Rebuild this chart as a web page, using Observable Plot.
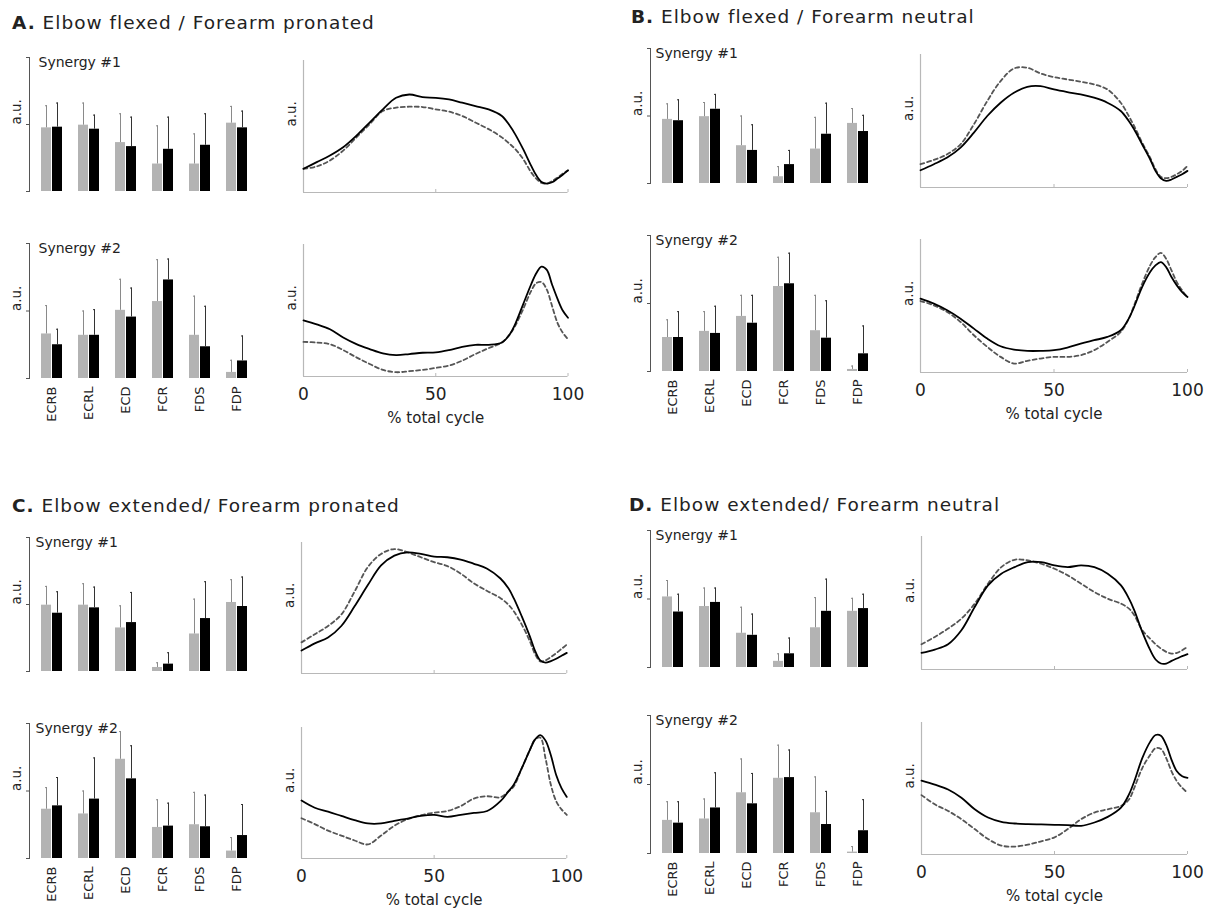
<!DOCTYPE html>
<html><head><meta charset="utf-8">
<script src="https://cdn.jsdelivr.net/npm/d3@7"></script>
<script src="https://cdn.jsdelivr.net/npm/@observablehq/plot@0.6"></script>
<style>
body{margin:0;background:#fff;}
#root{position:relative;width:1207px;height:909px;font-family:"DejaVu Sans",sans-serif;color:#222;overflow:hidden;}
.ttl{position:absolute;font-size:18.5px;letter-spacing:1px;line-height:18px;white-space:nowrap;color:#222;}
.ttl b{font-weight:bold;}
.pl{position:absolute;}
</style></head><body><div id="root"></div>
<script>
// ---------- data ----------
const muscles = ["ECRB","ECRL","ECD","FCR","FDS","FDP"];
const cycle = [0,5,10,15,20,25,30,35,40,45,50,55,60,65,70,75,78,80,83,86,88,90,92,94,96,98,100];
const xTicks = [0,50,100];

// bar means (gray / black) and SD, a.u.
const A1_grayMean = [0.95,0.99,0.73,0.41,0.41,1.02];
const A1_graySd   = [0.33,0.33,0.43,0.57,0.45,0.25];
const A1_blackMean= [0.96,0.93,0.67,0.63,0.69,0.95];
const A1_blackSd  = [0.36,0.21,0.44,0.48,0.47,0.25];
const A2_grayMean = [0.66,0.64,1.01,1.14,0.64,0.09];
const A2_graySd   = [0.42,0.36,0.46,0.62,0.58,0.18];
const A2_blackMean= [0.50,0.64,0.91,1.46,0.47,0.26];
const A2_blackSd  = [0.23,0.38,0.43,0.31,0.60,0.37];

const B1_grayMean = [0.95,0.99,0.56,0.10,0.51,0.89];
const B1_graySd   = [0.23,0.21,0.44,0.15,0.47,0.22];
const B1_blackMean= [0.93,1.10,0.49,0.28,0.73,0.77];
const B1_blackSd  = [0.31,0.22,0.38,0.21,0.46,0.24];
const B2_grayMean = [0.50,0.59,0.81,1.25,0.60,0.03];
const B2_graySd   = [0.26,0.29,0.31,0.43,0.52,0.05];
const B2_blackMean= [0.50,0.56,0.71,1.29,0.49,0.26];
const B2_blackSd  = [0.38,0.40,0.41,0.45,0.55,0.41];

const C1_grayMean = [0.99,0.99,0.65,0.06,0.56,1.03];
const C1_graySd   = [0.28,0.32,0.33,0.07,0.52,0.34];
const C1_blackMean= [0.87,0.95,0.73,0.11,0.79,0.97];
const C1_blackSd  = [0.32,0.31,0.45,0.17,0.55,0.44];
const C2_grayMean = [0.73,0.66,1.47,0.46,0.50,0.11];
const C2_graySd   = [0.32,0.34,0.41,0.41,0.48,0.20];
const C2_blackMean= [0.78,0.88,1.18,0.48,0.47,0.34];
const C2_blackSd  = [0.42,0.61,0.49,0.34,0.47,0.46];

const D1_grayMean = [1.03,0.89,0.50,0.09,0.58,0.82];
const D1_graySd   = [0.24,0.27,0.38,0.11,0.44,0.19];
const D1_blackMean= [0.81,0.95,0.47,0.20,0.82,0.86];
const D1_blackSd  = [0.26,0.21,0.31,0.23,0.47,0.21];
const D2_grayMean = [0.48,0.50,0.88,1.09,0.59,0.02];
const D2_graySd   = [0.27,0.29,0.49,0.48,0.52,0.08];
const D2_blackMean= [0.44,0.66,0.72,1.10,0.42,0.33];
const D2_blackSd  = [0.31,0.51,0.44,0.40,0.48,0.45];

// activation profiles (a.u.), solid and dashed
const A1_solid  = [72,92,112,137,172,212,252,287,297,289,287,282,272,262,252,232,202,177,132,82,52,32,27,31,42,54,67];
const A1_dashed = [72,79,97,127,167,207,247,257,260,259,252,245,232,212,192,167,147,132,102,62,42,29,27,35,45,57,67];
const A2_solid  = [170,158,143,118,98,83,70,65,68,72,73,80,90,96,96,103,128,158,218,278,313,333,323,278,236,200,178];
const A2_dashed = [105,103,98,80,58,38,20,13,16,20,26,33,48,68,86,103,128,153,203,258,283,286,263,213,163,133,113];
const B1_solid  = [52,70,90,120,165,215,255,285,303,305,295,287,280,270,255,230,200,175,130,85,50,28,20,24,32,40,50];
const B1_dashed = [70,83,100,130,190,260,320,358,360,343,332,325,318,310,295,255,215,185,135,90,55,32,28,32,40,50,65];
const B2_solid  = [222,207,187,162,132,102,79,69,65,65,67,75,87,97,107,127,162,197,257,302,322,332,317,287,262,242,227];
const B2_dashed = [215,202,182,152,112,77,47,27,35,42,47,47,52,67,92,122,162,202,267,322,347,360,342,307,272,247,225];
const C1_solid  = [70,92,110,145,205,270,330,360,370,365,357,355,348,335,320,290,260,230,175,115,70,40,33,38,45,54,63];
const C1_dashed = [95,120,145,180,250,325,365,380,370,355,340,328,305,275,252,230,210,190,150,100,60,37,40,50,62,75,88];
const C2_solid  = [177,155,143,130,117,107,107,115,122,130,133,127,133,139,145,175,205,225,275,330,363,377,360,315,255,215,188];
const C2_dashed = [123,105,85,70,55,43,70,100,120,132,140,145,160,183,190,187,205,220,275,330,363,369,305,225,175,150,133];
const D1_solid  = [50,60,76,118,188,253,288,308,323,323,313,308,313,308,288,253,213,178,113,58,30,18,18,26,33,40,46];
const D1_dashed = [76,98,123,153,198,258,308,330,328,318,303,283,258,233,213,198,183,163,118,92,76,63,53,48,50,58,68];
const D2_solid  = [224,212,197,172,137,112,99,94,92,91,90,89,87,97,114,142,182,222,292,342,362,360,332,287,252,237,232];
const D2_dashed = [180,152,132,107,77,47,27,24,30,40,52,77,107,127,137,147,167,202,262,302,322,320,292,252,222,202,187];

const panelLetters = ["A.","B.","C.","D."];
const panelTitles = ["Elbow flexed / Forearm pronated","Elbow flexed / Forearm neutral","Elbow extended/ Forearm pronated","Elbow extended/ Forearm neutral"];
const synergyLabels = ["Synergy #1","Synergy #2"];
const yLabel = "a.u.";
const xLabel = "% total cycle";

// ---------- layout ----------
const layout = [
  {tx:12, ty:14, bx:29, sdx:9, bars:[[57,191],[243,378]], lx:302.5, lw:264.5, lines:[[60,192],[244,376]]},
  {tx:631, ty:8, bx:650, sdx:5, bars:[[48,183],[235,371]], lx:920, lw:267, lines:[[54,187],[239,372]]},
  {tx:12, ty:497, bx:29, sdx:6, bars:[[537,671],[723,858]], lx:300.7, lw:265.3, lines:[[542,673],[727,858]]},
  {tx:629, ty:496, bx:650, sdx:5, bars:[[530,667],[715,853]], lx:921, lw:266, lines:[[536,669],[722,854]]}
];
const barsData = [
  [[A1_grayMean,A1_graySd,A1_blackMean,A1_blackSd],[A2_grayMean,A2_graySd,A2_blackMean,A2_blackSd]],
  [[B1_grayMean,B1_graySd,B1_blackMean,B1_blackSd],[B2_grayMean,B2_graySd,B2_blackMean,B2_blackSd]],
  [[C1_grayMean,C1_graySd,C1_blackMean,C1_blackSd],[C2_grayMean,C2_graySd,C2_blackMean,C2_blackSd]],
  [[D1_grayMean,D1_graySd,D1_blackMean,D1_blackSd],[D2_grayMean,D2_graySd,D2_blackMean,D2_blackSd]]
];
const linesData = [
  [[A1_solid,A1_dashed],[A2_solid,A2_dashed]],
  [[B1_solid,B1_dashed],[B2_solid,B2_dashed]],
  [[C1_solid,C1_dashed],[C2_solid,C2_dashed]],
  [[D1_solid,D1_dashed],[D2_solid,D2_dashed]]
];

const root = document.getElementById("root");
const FONT = '"DejaVu Sans", sans-serif';
const GRAY = "#b3b3b3";

function place(svg, left, top) {
  const d = document.createElement("div");
  d.className = "pl";
  d.style.left = left + "px";
  d.style.top = top + "px";
  d.appendChild(svg);
  root.appendChild(d);
}

function barChart(set, synLabel, sdx, showLabels, frameH) {
  const [gm, gs, bm, bs] = set;
  const rows = muscles.map((m, i) => ({m, g: gm[i], gt: gm[i] + gs[i], b: bm[i], bt: bm[i] + bs[i]}));
  const mL = 29, mR = 4, mT = 4, mB = showLabels ? 52 : 4, W = 230;
  return Plot.plot({
    width: mL + W + mR, height: mT + frameH + mB,
    marginLeft: mL, marginRight: mR, marginTop: mT, marginBottom: mB,
    style: {fontFamily: FONT, fontSize: "13px", color: "#222", background: "transparent", overflow: "visible"},
    x: {domain: muscles, paddingInner: 16/38, paddingOuter: 9/38, align: 0.5, label: null, axis: null},
    y: {domain: [0, 2], label: null},
    marks: [
      Plot.barY(rows, {x: "m", y: "g", fill: GRAY, insetRight: 11}),
      Plot.barY(rows, {x: "m", y: "b", fill: "#000", insetLeft: 11}),
      Plot.ruleX(rows, {x: "m", y1: "g", y2: "gt", dx: -5.5, stroke: "#8a8a8a", strokeWidth: 1}),
      Plot.tickY(rows, {x: "m", y: "gt", dx: -4, insetLeft: 8, insetRight: 11, stroke: "#8a8a8a", strokeWidth: 1}),
      Plot.ruleX(rows, {x: "m", y1: "b", y2: "bt", dx: 5.5, stroke: "#333", strokeWidth: 1}),
      Plot.tickY(rows, {x: "m", y: "bt", dx: 7, insetLeft: 8, insetRight: 11, stroke: "#333", strokeWidth: 1}),
      Plot.frame({anchor: "left", stroke: "#555"}),
      Plot.axisY({ticks: [0, 1, 2], tickSize: 3, tickFormat: () => "", label: null, stroke: "#555"}),
      ...(showLabels ? [Plot.axisX({tickRotate: -90, tickSize: 0, tickPadding: 8, fontSize: 13, label: null, fill: "#222"})] : []),
      Plot.text([yLabel], {frameAnchor: "left", dx: -13, rotate: -90, fontSize: 13.5}),
      Plot.text([synLabel], {frameAnchor: "top-left", dx: sdx, dy: 0, textAnchor: "start", lineAnchor: "top", fontSize: 14})
    ]
  });
}

function lineChart(pair, showLabels, frameW, frameH) {
  const [solid, dashed] = pair;
  const rows = cycle.map((c, i) => ({c, s: solid[i], d: dashed[i]}));
  const mL = 30, mR = 16, mT = 4, mB = showLabels ? 58 : 6;
  return Plot.plot({
    width: mL + frameW + mR, height: mT + frameH + mB,
    marginLeft: mL, marginRight: mR, marginTop: mT, marginBottom: mB,
    style: {fontFamily: FONT, fontSize: "13px", color: "#222", background: "transparent", overflow: "visible"},
    x: {domain: [0, 100], label: null},
    y: {domain: [0, 400], label: null, axis: null},
    marks: [
      Plot.ruleY([0], {stroke: "#b8b8b8", strokeWidth: 1.2}),
      Plot.ruleX([0], {stroke: "#b8b8b8", strokeWidth: 1.2}),
      Plot.axisX({ticks: xTicks, tickSize: -3, tickPadding: 14, stroke: "#b8b8b8", fill: "#222",
                  fontSize: 17, label: null, tickFormat: showLabels ? (d => String(d)) : (() => "")}),
      Plot.lineY(rows, {x: "c", y: "d", stroke: "#555", strokeWidth: 1.8, strokeDasharray: "4,3", curve: "catmull-rom"}),
      Plot.lineY(rows, {x: "c", y: "s", stroke: "#000", strokeWidth: 1.8, curve: "catmull-rom"}),
      Plot.text([yLabel], {frameAnchor: "left", dx: -12, rotate: -90, fontSize: 13.5}),
      ...(showLabels ? [Plot.text([xLabel], {frameAnchor: "bottom", dy: 42, lineAnchor: "middle", fontSize: 15})] : [])
    ]
  });
}

layout.forEach((L, p) => {
  const t = document.createElement("div");
  t.className = "ttl";
  t.style.left = L.tx + "px";
  t.style.top = L.ty + "px";
  t.innerHTML = "<b>" + panelLetters[p] + "</b> " + panelTitles[p];
  root.appendChild(t);
  for (let s = 0; s < 2; s++) {
    const [bt, bb] = L.bars[s];
    place(barChart(barsData[p][s], synergyLabels[s], L.sdx, s === 1, bb - bt), L.bx - 29, bt - 4);
    const [lt, lb] = L.lines[s];
    place(lineChart(linesData[p][s], s === 1, L.lw, lb - lt), L.lx - 30, lt - 4);
  }
});
</script>
</body></html>
